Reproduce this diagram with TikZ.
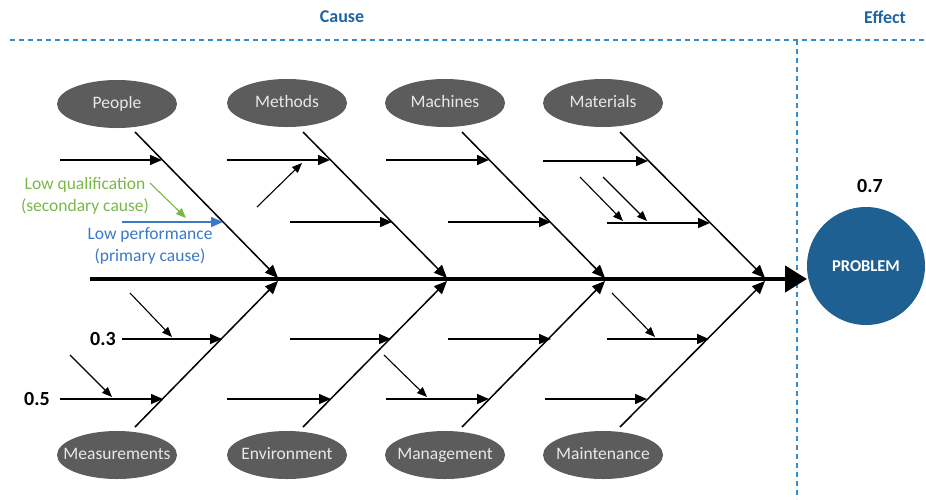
\documentclass[tikz,border=0pt]{standalone}
\usepackage{fontspec}
\setmainfont{Carlito}
\usetikzlibrary{arrows.meta,shapes.geometric}
\definecolor{dashblue}{RGB}{52,140,200}
\definecolor{headblue}{RGB}{31,100,160}
\definecolor{probblue}{RGB}{31,96,146}
\definecolor{ellgray}{RGB}{92,92,92}
\definecolor{ltxt}{RGB}{232,232,232}
\definecolor{lgreen}{RGB}{122,182,72}
\definecolor{lblue}{RGB}{58,120,200}
\begin{document}
\begin{tikzpicture}[x=1pt,y=-1pt,
  cattext/.style={text=ltxt, inner sep=0pt, text height=12pt, text depth=3pt, font=\fontsize{17.5}{19}\selectfont},
  cat/.style={ellipse, fill=ellgray, minimum width=120pt, minimum height=48pt, inner sep=0pt, label={[cattext]center:#1}},
  sub/.style={line width=1.5pt, -{Triangle[length=12pt,width=10pt]}},
  slant/.style={line width=1.1pt, -{Triangle[length=10pt,width=8pt]}},
  bone/.style={line width=1.5pt, -{Triangle[length=13pt,width=11pt]}},
  spine/.style={line width=4.5pt, -{Triangle[length=22pt,width=26pt]}},
  num/.style={font=\bfseries\fontsize{20}{22}\selectfont},
  head/.style={text=headblue, font=\bfseries\fontsize{18}{20}\selectfont},
  divider/.style={dashblue, line width=1.5pt, dash pattern=on 5pt off 4pt},
  note/.style={align=center, font=\fontsize{17.5}{21.5}\selectfont, inner sep=0pt}]
\useasboundingbox (0,0) rectangle (926,499);

% headers and dividers
\node[head] (cause) at (342,17) {Cause};
\node[head] (effect) at (885,17) {Effect};
\coordinate (dl) at (10,40); \coordinate (dr) at (926,40);
\coordinate (vt) at (797,40); \coordinate (vb) at (797,499);
\draw[divider] (dl) -- (dr);
\draw[divider] (vt) -- (vb);

% categories
\node[cat=People] (people) at (117,104) {};
\node[cat=Methods] (methods) at (287,103) {};
\node[cat=Machines] (machines) at (445,103) {};
\node[cat=Materials] (materials) at (603,103) {};
\node[cat=Measurements] (measure) at (117,455) {};
\node[cat=Environment] (env) at (287,455) {};
\node[cat=Management] (mgmt) at (445,455) {};
\node[cat=Maintenance] (maint) at (603,455) {};

% problem
\node[circle, fill=probblue, minimum size=118pt, inner sep=0pt, text=white, font=\bfseries\fontsize{16.5}{18}\selectfont] (prob) at (866,266) {PROBLEM};
\node[num] (p7) at (870,186) {0.7};

% spine
\coordinate (spS) at (90,279); \coordinate (spT) at (807,279);
\draw[spine] (spS) -- (spT);

% bones
\coordinate (pS) at (135,132); \coordinate (pT) at (278,278);
\coordinate (mS) at (303,132); \coordinate (mT) at (447,278);
\coordinate (maS) at (462,132); \coordinate (maT) at (605,278);
\coordinate (mtS) at (620,132); \coordinate (mtT) at (765,278);
\coordinate (meS) at (135,427); \coordinate (meT) at (278,281);
\coordinate (eS) at (303,427); \coordinate (eT) at (447,281);
\coordinate (gS) at (462,427); \coordinate (gT) at (605,281);
\coordinate (tS) at (620,427); \coordinate (tT) at (765,281);
\foreach \a/\b in {pS/pT,mS/mT,maS/maT,mtS/mtT,meS/meT,eS/eT,gS/gT,tS/tT}
  \draw[bone] (\a) -- (\b);

% People
\coordinate (p1a) at (60,160); \coordinate (p1b) at (162,160);
\draw[sub] (p1a) -- (p1b);
\coordinate (p2a) at (122,222); \coordinate (p2b) at (223,222);
\draw[sub, lblue] (p2a) -- (p2b);
\node[note, text=lgreen] (lowq) at (85,196) {Low qualification\\(secondary cause)};
\node[note, text=lblue] (lowp) at (150,246) {Low performance\\(primary cause)};
\coordinate (g1a) at (150,183); \coordinate (g1b) at (186,218);
\draw[slant, lgreen] (g1a) -- (g1b);

% Methods
\coordinate (m1a) at (227,160); \coordinate (m1b) at (330,160);
\draw[sub] (m1a) -- (m1b);
\coordinate (m2a) at (257,207); \coordinate (m2b) at (302,163);
\draw[slant] (m2a) -- (m2b);
\coordinate (m3a) at (290,222); \coordinate (m3b) at (392,222);
\draw[sub] (m3a) -- (m3b);

% Machines
\coordinate (c1a) at (386,160); \coordinate (c1b) at (489,160);
\draw[sub] (c1a) -- (c1b);
\coordinate (c2a) at (448,222); \coordinate (c2b) at (551,222);
\draw[sub] (c2a) -- (c2b);

% Materials
\coordinate (t1a) at (543,161); \coordinate (t1b) at (648,161);
\draw[sub] (t1a) -- (t1b);
\coordinate (t2a) at (607,223); \coordinate (t2b) at (710,223);
\draw[sub] (t2a) -- (t2b);
\coordinate (t3a) at (580,177); \coordinate (t3b) at (623,221);
\draw[slant] (t3a) -- (t3b);
\coordinate (t4a) at (603,177); \coordinate (t4b) at (647,221);
\draw[slant] (t4a) -- (t4b);

% Measurements
\coordinate (e1a) at (122,339); \coordinate (e1b) at (222,339);
\draw[sub] (e1a) -- (e1b);
\coordinate (e2a) at (60,399); \coordinate (e2b) at (163,399);
\draw[sub] (e2a) -- (e2b);
\coordinate (e3a) at (130,293); \coordinate (e3b) at (172,337);
\draw[slant] (e3a) -- (e3b);
\coordinate (e4a) at (70,355); \coordinate (e4b) at (112,397);
\draw[slant] (e4a) -- (e4b);
\node[num] (n3) at (103,339) {0.3};
\node[num] (n5) at (37,399) {0.5};

% Environment
\coordinate (v1a) at (290,339); \coordinate (v1b) at (391,339);
\draw[sub] (v1a) -- (v1b);
\coordinate (v2a) at (227,399); \coordinate (v2b) at (331,399);
\draw[sub] (v2a) -- (v2b);

% Management
\coordinate (a1a) at (448,339); \coordinate (a1b) at (551,339);
\draw[sub] (a1a) -- (a1b);
\coordinate (a2a) at (386,399); \coordinate (a2b) at (489,399);
\draw[sub] (a2a) -- (a2b);
\coordinate (a3a) at (384,355); \coordinate (a3b) at (427,397);
\draw[slant] (a3a) -- (a3b);

% Maintenance
\coordinate (i1a) at (607,339); \coordinate (i1b) at (709,339);
\draw[sub] (i1a) -- (i1b);
\coordinate (i2a) at (545,399); \coordinate (i2b) at (647,399);
\draw[sub] (i2a) -- (i2b);
\coordinate (i3a) at (612,293); \coordinate (i3b) at (655,337);
\draw[slant] (i3a) -- (i3b);
\end{tikzpicture}
\end{document}
